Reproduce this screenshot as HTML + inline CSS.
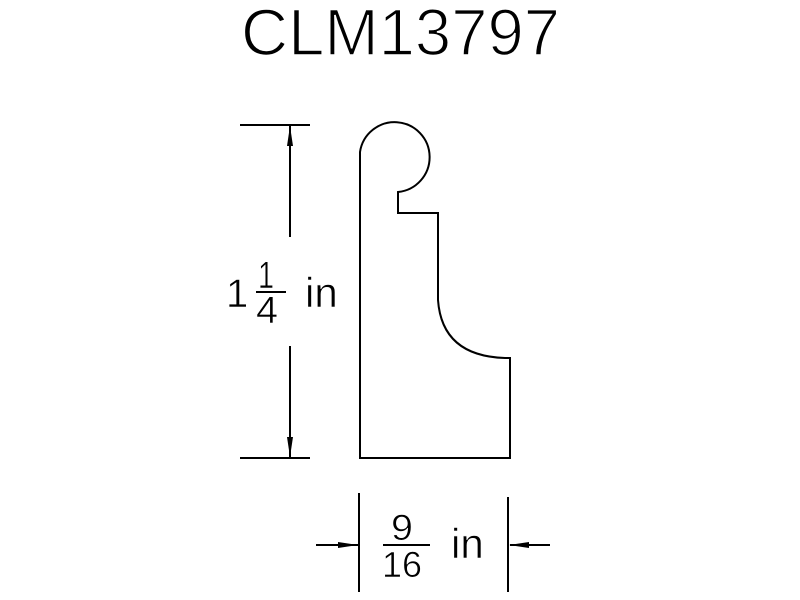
<!DOCTYPE html>
<html><head><style>html,body{margin:0;padding:0;background:#fff;}svg{display:block}</style></head>
<body>
<svg width="800" height="600" viewBox="0 0 800 600" xmlns="http://www.w3.org/2000/svg">
<rect width="800" height="600" fill="#fff"/>
<text x="241" y="55" font-family="Liberation Sans, sans-serif" font-size="66" textLength="319" lengthAdjust="spacingAndGlyphs" fill="#000" stroke="#fff" stroke-width="1.6">CLM13797</text>
<g fill="none" stroke="#000" stroke-width="2">
<path d="M360,458 L360,152 A35,35 0 1 1 398,192 L398,213 L438,213 L438,300 Q442,356 505,358 L510,358 L510,458 Z"/>
<line x1="240" y1="125" x2="310" y2="125"/>
<line x1="240" y1="458" x2="310" y2="458"/>
<line x1="290" y1="125" x2="290" y2="237"/>
<line x1="290" y1="346" x2="290" y2="458"/>
<line x1="359" y1="493" x2="359" y2="592"/>
<line x1="508" y1="497" x2="508" y2="592"/>
<line x1="316" y1="545" x2="358" y2="545"/>
<line x1="510" y1="545" x2="550" y2="545"/>
<line x1="383" y1="545" x2="430" y2="545"/>
<line x1="256" y1="292" x2="286" y2="292"/>
</g>
<g fill="#000">
<polygon points="290,126 287,146 293,146"/>
<polygon points="290,457 287,437 293,437"/>
<polygon points="358,545 338,542 338,548"/>
<polygon points="509,545 529,542 529,548"/>
</g>
<g font-family="Liberation Sans, sans-serif" fill="#000" stroke="#fff" stroke-width="0.6">
<text x="226" y="307" font-size="40">1</text>
<text x="258" y="288" font-size="38" textLength="16" lengthAdjust="spacingAndGlyphs">1</text>
<text x="256" y="323" font-size="38" textLength="22" lengthAdjust="spacingAndGlyphs">4</text>
<text x="305" y="307" font-size="42">in</text>
<text x="391" y="540" font-size="36" textLength="22" lengthAdjust="spacingAndGlyphs">9</text>
<text x="382" y="577" font-size="36" textLength="40" lengthAdjust="spacingAndGlyphs">16</text>
<text x="451" y="558" font-size="42">in</text>
</g>
</svg>
</body></html>
